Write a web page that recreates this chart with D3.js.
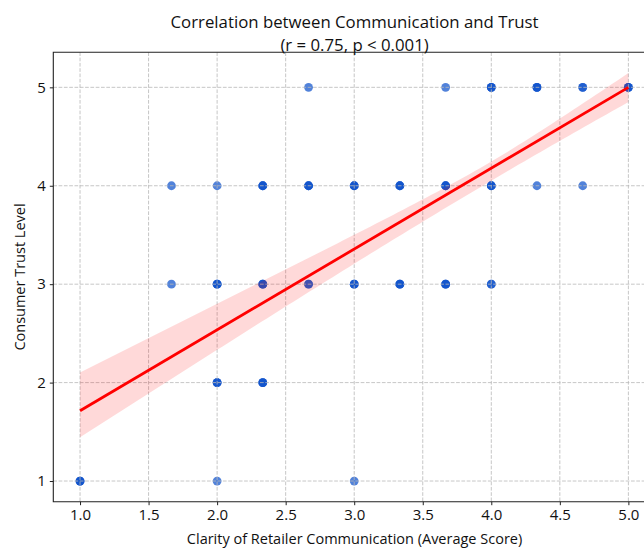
<!DOCTYPE html>
<html>
<head>
<meta charset="utf-8">
<script src="https://cdn.jsdelivr.net/npm/d3@7"></script>
<style>
  html, body { margin: 0; padding: 0; background: #fff; }
  svg { display: block; font-family: "Open Sans", Roboto, sans-serif; }
</style>
</head>
<body>
<svg id="chart" width="644" height="548"></svg>
<script>
// Survey responses: clarity score (mean of three items) vs. trust level.
// Each entry is one distinct (clarity, trust) pair and how many respondents gave it.
const clarity = [
  2.667, 3.667, 4.0, 4.333, 4.667, 5.0,
  1.667, 2.0, 2.333, 2.667, 3.0, 3.333, 3.667, 4.0, 4.333, 4.667,
  1.667, 2.0, 2.333, 2.667, 3.0, 3.333, 3.667, 4.0,
  2.0, 2.333,
  1.0, 2.0, 3.0
];
const trust = [
  5, 5, 5, 5, 5, 5,
  4, 4, 4, 4, 4, 4, 4, 4, 4, 4,
  3, 3, 3, 3, 3, 3, 3, 3,
  2, 2,
  1, 1, 1
];
const respondents = [
  1, 1, 3, 3, 2, 3,
  1, 1, 3, 3, 3, 3, 3, 3, 1, 1,
  1, 3, 3, 2, 3, 3, 3, 2,
  3, 3,
  3, 1, 1
];

// Fitted regression line and its 95% confidence band (bootstrap, slightly skewed upward)
const fitIntercept = 0.8925;
const fitSlope = 0.8215;
const bandUpper = { centre: 4.0, min: 0.068, spread: 0.128 };
const bandLower = { centre: 4.0, min: 0.127, spread: 0.079 };

const xTicks = [1.0, 1.5, 2.0, 2.5, 3.0, 3.5, 4.0, 4.5, 5.0];
const yTicks = [1, 2, 3, 4, 5];

const titleLines = ["Correlation between Communication and Trust", "(r = 0.75, p < 0.001)"];
const xLabel = "Clarity of Retailer Communication (Average Score)";
const yLabel = "Consumer Trust Level";

// ---- layout ----
const svg = d3.select("#chart");
const plot = { left: 53.3, top: 52.3, right: 655.8, bottom: 501.7 };

const x = d3.scaleLinear().domain([0.805, 5.2]).range([plot.left, plot.right]);
const y = d3.scaleLinear().domain([0.79, 5.356]).range([plot.bottom, plot.top]);

const g = svg.append("g");

// ---- scatter (drawn below grid, band and line) ----
const pts = clarity.map((c, i) => ({ c, t: trust[i], n: respondents[i] }));
const dots = [];
pts.forEach(p => { for (let k = 0; k < p.n; k++) dots.push(p); });
g.append("g").selectAll("circle").data(dots).join("circle")
  .attr("cx", d => x(d.c))
  .attr("cy", d => y(d.t))
  .attr("r", 4.4)
  .attr("fill", "#0e52cc")
  .attr("fill-opacity", 0.72);

// ---- grid ----
const grid = g.append("g")
  .attr("stroke", "#b8b8b8")
  .attr("stroke-opacity", 0.8)
  .attr("stroke-width", 1)
  .attr("stroke-dasharray", "3.7,1.6");
grid.selectAll("line.v").data(xTicks).join("line")
  .attr("class", "v")
  .attr("x1", d => x(d)).attr("x2", d => x(d))
  .attr("y1", plot.top).attr("y2", plot.bottom);
grid.selectAll("line.h").data(yTicks).join("line")
  .attr("class", "h")
  .attr("y1", d => y(d)).attr("y2", d => y(d))
  .attr("x1", plot.left).attr("x2", plot.right);

// ---- confidence band + regression line ----
const fitAt = v => fitIntercept + fitSlope * v;
const halfWidth = (b, v) => Math.sqrt(b.min * b.min + b.spread * b.spread * (v - b.centre) ** 2);
const xMin = d3.min(clarity), xMax = d3.max(clarity);
const samples = d3.range(0, 101).map(i => xMin + (xMax - xMin) * i / 100);

g.append("path")
  .datum(samples)
  .attr("fill", "#ff0000")
  .attr("fill-opacity", 0.15)
  .attr("d", d3.area()
    .x(v => x(v))
    .y0(v => y(fitAt(v) - halfWidth(bandLower, v)))
    .y1(v => y(fitAt(v) + halfWidth(bandUpper, v))));

g.append("path")
  .datum([xMin, xMax])
  .attr("fill", "none")
  .attr("stroke", "#ff0000")
  .attr("stroke-width", 2.8)
  .attr("d", d3.line().x(v => x(v)).y(v => y(fitAt(v))));

// ---- axes ----
const xAxis = d3.axisBottom(x).tickValues(xTicks).tickFormat(d3.format(".1f"))
  .tickSizeInner(3.5).tickSizeOuter(0).tickPadding(4);
const yAxis = d3.axisLeft(y).tickValues(yTicks).tickFormat(d3.format("d"))
  .tickSizeInner(3.5).tickSizeOuter(0).tickPadding(4);

const gx = svg.append("g").attr("transform", `translate(0,${plot.bottom})`).call(xAxis);
const gy = svg.append("g").attr("transform", `translate(${plot.left},0)`).call(yAxis);
[gx, gy].forEach(a => {
  a.select(".domain").remove();
  a.selectAll(".tick line").attr("stroke", "#222").attr("stroke-width", 1);
  a.selectAll(".tick text").attr("fill", "#111").style("font-size", "15px")
    .style("font-family", "'Open Sans', sans-serif");
});

// spines: left, top, bottom (right edge lies beyond the canvas)
svg.append("path")
  .attr("fill", "none").attr("stroke", "#222").attr("stroke-width", 1.1)
  .attr("d", `M${plot.right},${plot.top}H${plot.left}V${plot.bottom}H${plot.right}`);

// ---- labels ----
const cx = (plot.left + plot.right) / 2;
svg.append("text").attr("x", cx).attr("y", 543.5).attr("text-anchor", "middle")
  .style("font-size", "14.5px").attr("fill", "#111").text(xLabel);
svg.append("text")
  .attr("transform", `translate(25,${(plot.top + plot.bottom) / 2}) rotate(-90)`)
  .attr("text-anchor", "middle").style("font-size", "14.5px").attr("fill", "#111").text(yLabel);

svg.append("g").selectAll("text").data(titleLines).join("text")
  .attr("x", cx).attr("y", (d, i) => 28 + i * 23)
  .attr("text-anchor", "middle").style("font-size", "16.8px").attr("fill", "#111")
  .text(d => d);
</script>
</body>
</html>
